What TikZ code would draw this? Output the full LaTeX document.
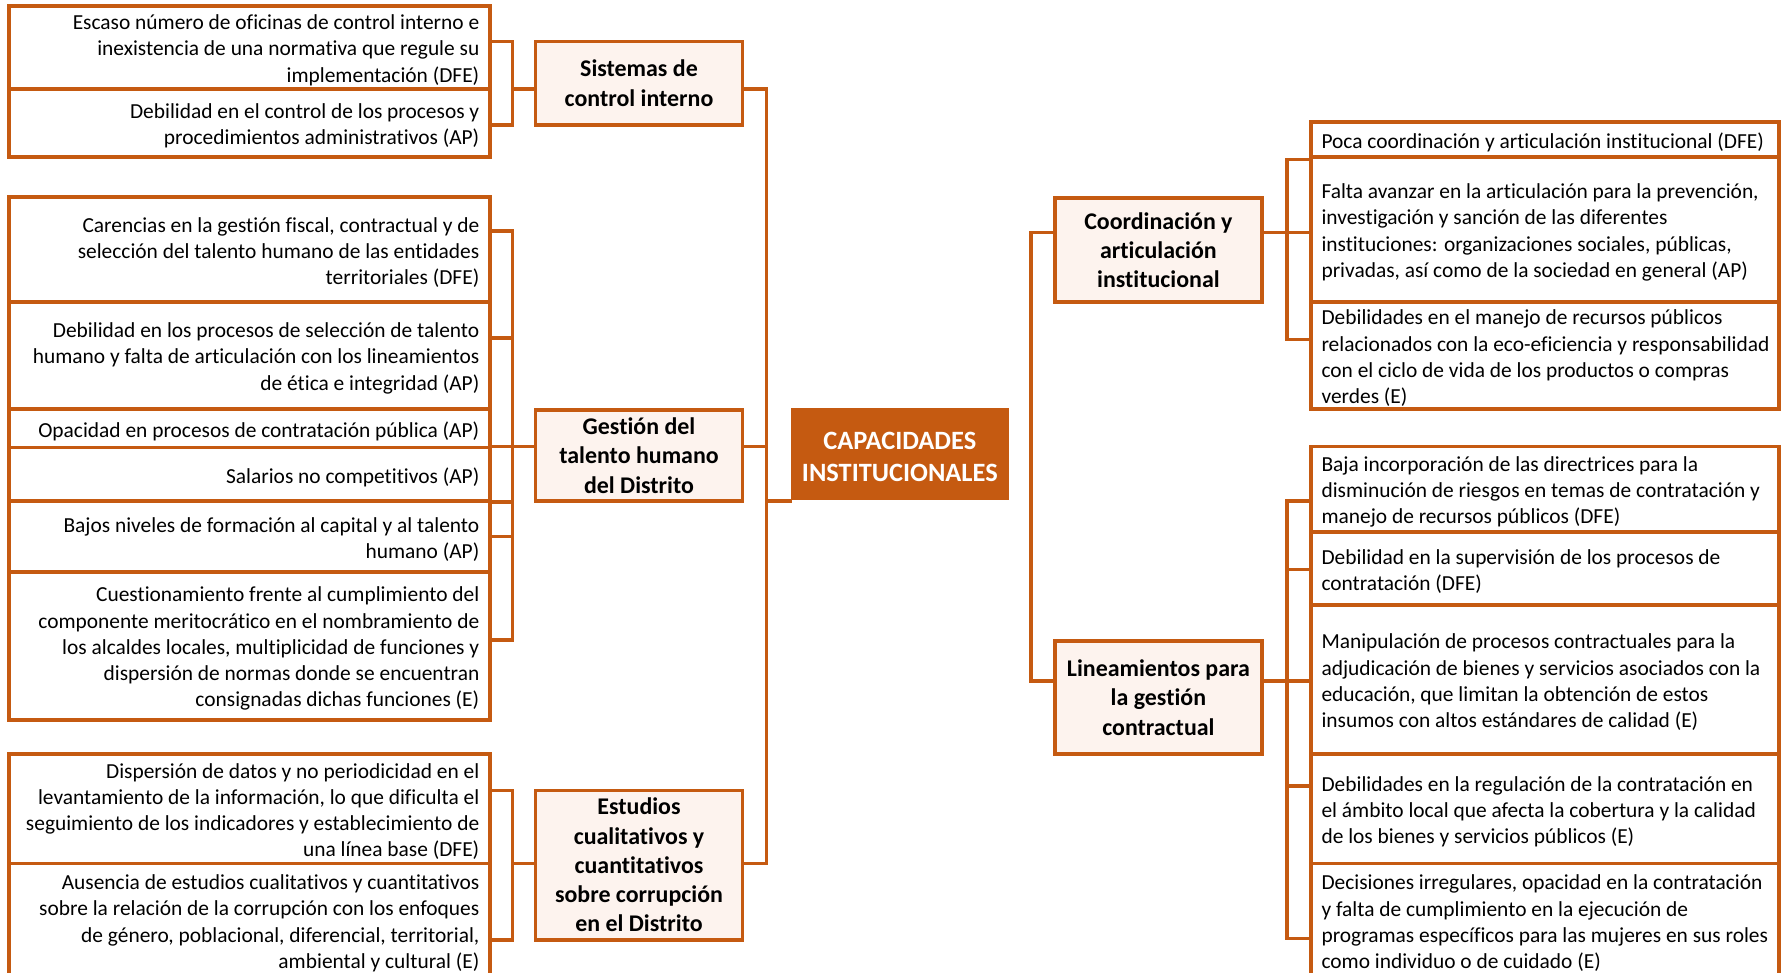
\documentclass[tikz,border=0pt]{standalone}
\usepackage{fontspec}
\setmainfont{Carlito}[RawFeature={-liga}]
\definecolor{brd}{RGB}{197,90,17}
\definecolor{midfill}{RGB}{253,243,238}
\tikzset{
  leaf/.style={draw=brd, line width=3.2, fill=white, rectangle, inner sep=0, outer sep=0},
  ltext/.style={inner sep=0, align=right, font=\fontsize{18.8}{23}\selectfont},
  rtext/.style={inner sep=0, align=left, font=\fontsize{18.8}{23}\selectfont},
  mid/.style={draw=brd, line width=3.2, fill=midfill, rectangle, inner sep=0, outer sep=0},
  midtext/.style={inner sep=0, align=center, font=\bfseries\fontsize{21}{25.7}\selectfont},
  core/.style={draw=brd, fill=brd, rectangle, inner sep=0, outer sep=0},
  coretext/.style={inner sep=0, text=white, align=center, font=\bfseries\fontsize{23.2}{28.5}\selectfont},
  conn/.style={draw=brd, line width=3.2}
}
% left-column item: name, top, bottom, text
\newcommand\lbox[4]{%
  \node[leaf, anchor=north west, minimum width=422, minimum height={#3-#2}] (#1) at (8,#2) {};
  \node[ltext, anchor=east] (#1-t) at ([xshift=-9pt, yshift=-2.5pt]#1.east) {#4};}
% right-column item: name, top, bottom, text
\newcommand\rbox[4]{%
  \node[leaf, anchor=north west, minimum width=411, minimum height={#3-#2}] (#1) at (1151,#2) {};
  \node[rtext, anchor=west] (#1-t) at ([xshift=9pt, yshift=-2.5pt]#1.west) {#4};}
% category box: name, left, top, right, bottom, text
\newcommand\catbox[6]{%
  \node[mid, anchor=north west, minimum width={#4-#2}, minimum height={#5-#3}] (#1) at (#2,#3) {};
  \node[midtext] (#1-t) at (#1.center) {#6};}
\begin{document}
\begin{tikzpicture}[x=1pt, y=-1pt]
\useasboundingbox (0,0) rectangle (1568,854);
\clip (0,0) rectangle (1568,854);

% ---------- left column ----------
\lbox{l1}{5}{78}{Escaso número de oficinas de control interno e\\inexistencia de una normativa que regule su\\implementación (DFE)}
\lbox{l2}{78}{138}{Debilidad en el control de los procesos y\\procedimientos administrativos (AP)}
\lbox{l3}{173}{265}{Carencias en la gestión fiscal, contractual y de\\selección del talento humano de las entidades\\territoriales (DFE)}
\lbox{l4}{265}{359}{Debilidad en los procesos de selección de talento\\humano y falta de articulación con los lineamientos\\de ética e integridad (AP)}
\lbox{l5}{359}{393}{Opacidad en procesos de contratación pública (AP)}
\lbox{l6}{393}{440}{Salarios no competitivos (AP)}
\lbox{l7}{440}{502}{Bajos niveles de formación al capital y al talento\\humano (AP)}
\lbox{l8}{502}{632}{Cuestionamiento frente al cumplimiento del\\componente meritocrático en el nombramiento de\\los alcaldes locales, multiplicidad de funciones y\\dispersión de normas donde se encuentran\\consignadas dichas funciones (E)}
\lbox{l9}{662}{758}{Dispersión de datos y no periodicidad en el\\levantamiento de la información, lo que dificulta el\\seguimiento de los indicadores y establecimiento de\\una línea base (DFE)}
\lbox{l10}{758}{858}{Ausencia de estudios cualitativos y cuantitativos\\sobre la relación de la corrupción con los enfoques\\de género, poblacional, diferencial, territorial,\\ambiental y cultural (E)}

% ---------- right column ----------
\rbox{r1}{107}{138}{Poca coordinación y articulación institucional (DFE)}
\rbox{r2}{138}{265}{Falta avanzar en la articulación para la prevención,\\investigación y sanción de las diferentes\\instituciones: organizaciones sociales, públicas,\\privadas, así como de la sociedad en general (AP)}
\rbox{r3}{265}{359}{Debilidades en el manejo de recursos públicos\\relacionados con la eco-eficiencia y responsabilidad\\con el ciclo de vida de los productos o compras\\verdes (E)}
\rbox{r4}{392}{467}{Baja incorporación de las directrices para la\\disminución de riesgos en temas de contratación y\\manejo de recursos públicos (DFE)}
\rbox{r5}{467}{531}{Debilidad en la supervisión de los procesos de\\contratación (DFE)}
\rbox{r6}{531}{662}{Manipulación de procesos contractuales para la\\adjudicación de bienes y servicios asociados con la\\educación, que limitan la obtención de estos\\insumos con altos estándares de calidad (E)}
\rbox{r7}{662}{758}{Debilidades en la regulación de la contratación en\\el ámbito local que afecta la cobertura y la calidad\\de los bienes y servicios públicos (E)}
\rbox{r8}{758}{858}{Decisiones irregulares, opacidad en la contratación\\y falta de cumplimiento en la ejecución de\\programas específicos para las mujeres en sus roles\\como individuo o de cuidado (E)}

% ---------- categories ----------
\catbox{sis}{470}{36.5}{652}{109.5}{Sistemas de\\control interno}
\catbox{gest}{470}{360}{652}{440}{Gestión del\\talento humano\\del Distrito}
\catbox{est}{470}{694}{652}{825}{Estudios\\cualitativos y\\cuantitativos\\sobre corrupción\\en el Distrito}
\catbox{coord}{926}{174}{1108}{265}{Coordinación y\\articulación\\institucional}
\catbox{lin}{926}{563}{1108}{662}{Lineamientos para\\la gestión\\contractual}

% ---------- central node ----------
\node[core, anchor=north west, minimum width=190, minimum height=80] (core) at (695,358) {};
\node[coretext] (core-t) at ([yshift=-3pt]core.center) {CAPACIDADES\\INSTITUCIONALES};

% ---------- junction points ----------
\coordinate (sT) at (450,36.5);  \coordinate (sM) at (450,78);  \coordinate (sB) at (450,110);
\coordinate (gT) at (450,203);   \coordinate (g2) at (450,297); \coordinate (gM) at (450,392);
\coordinate (g4) at (450,441);   \coordinate (g5) at (450,471); \coordinate (gB) at (450,562);
\coordinate (eT) at (450,694);   \coordinate (eM) at (450,758); \coordinate (eB) at (450,825);
\coordinate (pS) at (673,78);    \coordinate (pG) at (673,392); \coordinate (pC) at (673,440);
\coordinate (pE) at (673,758);
\coordinate (qC) at (905,204);   \coordinate (qL) at (905,598);
\coordinate (cT) at (1130,140);  \coordinate (cM) at (1130,204); \coordinate (cB) at (1130,298);
\coordinate (kT) at (1130,440);  \coordinate (k2) at (1130,500); \coordinate (kM) at (1130,598);
\coordinate (k4) at (1130,690);  \coordinate (kB) at (1130,824);

% ---------- connectors: left side ----------
\draw[conn] (l1.east |- sT) -- (sT) -- (sB) -- (l2.east |- sB);
\draw[conn] (sM) -- (sis.west |- sM);
\draw[conn] (l3.east |- gT) -- (gT) -- (gB) -- (l8.east |- gB);
\draw[conn] (l4.east |- g2) -- (g2);
\draw[conn] (l5.east |- gM) -- (gest.west |- gM);
\draw[conn] (l6.east |- g4) -- (g4);
\draw[conn] (l7.east |- g5) -- (g5);
\draw[conn] (l9.east |- eT) -- (eT) -- (eB) -- (l10.east |- eB);
\draw[conn] (eM) -- (est.west |- eM);
\draw[conn] (sis.east |- pS) -- (pS) -- (pE) -- (est.east |- pE);
\draw[conn] (gest.east |- pG) -- (pG);
\draw[conn] (pC) -- (core.west |- pC);

% ---------- connectors: right side ----------
\draw[conn] (coord.west |- qC) -- (qC) -- (qL) -- (lin.west |- qL);
\draw[conn] (r2.west |- cT) -- (cT) -- (cB) -- (r3.west |- cB);
\draw[conn] (coord.east |- cM) -- (r2.west |- cM);
\draw[conn] (r4.west |- kT) -- (kT) -- (kB) -- (r8.west |- kB);
\draw[conn] (r5.west |- k2) -- (k2);
\draw[conn] (r7.west |- k4) -- (k4);
\draw[conn] (lin.east |- kM) -- (r6.west |- kM);
\end{tikzpicture}
\end{document}
